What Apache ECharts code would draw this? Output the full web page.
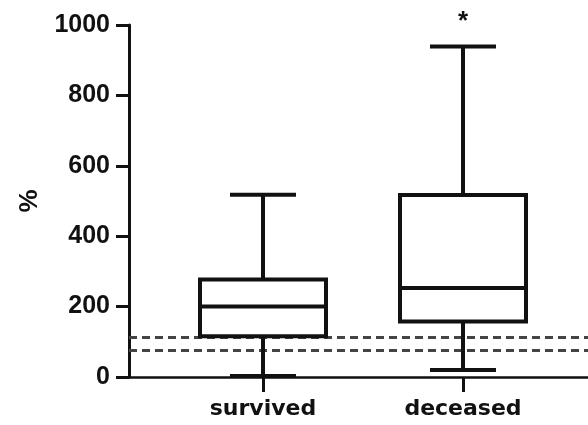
<!DOCTYPE html>
<html>
<head>
<meta charset="UTF-8">
<title>box plot</title>
<script src="https://cdn.jsdelivr.net/npm/echarts@6/dist/echarts.min.js"></script>
<style>
    html, body { margin: 0; padding: 0; background: #fff; }
    #chart { width: 588px; height: 425px; }
</style>
</head>
<body>
<div id="chart"></div>
<script>
    // groups and box statistics
    var categories = ['survived', 'deceased'];
    var positions = [1, 2];
    var whiskerLow = [3, 20];
    var q1 = [116, 158];
    var median = [200, 253];
    var q3 = [277, 517];
    var whiskerHigh = [518, 939];
    var marks = ['', '*'];
    var refLines = [114, 77];

    var boxData = [];
    for (var i = 0; i < categories.length; i++) {
        boxData.push([positions[i], whiskerLow[i], q1[i], median[i], q3[i], whiskerHigh[i], i]);
    }

    function renderBox(params, api) {
        var x = api.value(0);
        var lo = api.coord([x, api.value(1)]);
        var b1 = api.coord([x, api.value(2)]);
        var md = api.coord([x, api.value(3)]);
        var b3 = api.coord([x, api.value(4)]);
        var hi = api.coord([x, api.value(5)]);
        var cx = lo[0];
        var half = 63, cap = 33;
        var st = { stroke: '#111', lineWidth: 4, fill: null };
        var kids = [
            { type: 'line', shape: { x1: cx, y1: hi[1], x2: cx, y2: b3[1] }, style: st },
            { type: 'line', shape: { x1: cx, y1: b1[1], x2: cx, y2: lo[1] }, style: st },
            { type: 'line', shape: { x1: cx - cap, y1: hi[1], x2: cx + cap, y2: hi[1] }, style: st },
            { type: 'line', shape: { x1: cx - cap, y1: lo[1], x2: cx + cap, y2: lo[1] }, style: st },
            { type: 'rect', shape: { x: cx - half, y: b3[1], width: half * 2, height: b1[1] - b3[1] },
              style: { stroke: '#111', lineWidth: 4, fill: '#fff' } },
            { type: 'line', shape: { x1: cx - half, y1: md[1], x2: cx + half, y2: md[1] }, style: st }
        ];
        var m = marks[api.value(6)];
        if (m) {
            kids.push({
                type: 'text',
                style: { x: cx, y: hi[1] - 25, text: m, fill: '#111', align: 'center', verticalAlign: 'middle',
                    font: 'bold 26px "Liberation Sans", Arial, sans-serif' }
            });
        }
        return { type: 'group', children: kids };
    }

    var chart = echarts.init(document.getElementById('chart'));
    var option = {
        backgroundColor: '#fff',
        animation: false,
        grid: { left: 129, right: 0, top: 25, bottom: 48 },
        xAxis: {
            type: 'value',
            min: 0.33,
            max: 2.625,
            splitLine: { show: false },
            axisLine: { show: true, onZero: false, lineStyle: { color: '#111', width: 2.5 } },
            axisTick: { show: true, customValues: positions, length: 15, lineStyle: { color: '#111', width: 3 } },
            axisLabel: {
                customValues: positions,
                margin: 21,
                color: '#111',
                fontFamily: 'DejaVu Sans',
                fontWeight: 'bold',
                fontSize: 22,
                formatter: function (v) { return categories[positions.indexOf(v)] || ''; }
            }
        },
        yAxis: {
            type: 'value',
            min: 0,
            max: 1000,
            interval: 200,
            name: '%',
            nameLocation: 'middle',
            nameGap: 86,
            nameTextStyle: { color: '#111', fontFamily: 'Liberation Sans', fontWeight: 'bold', fontSize: 26 },
            splitLine: { show: false },
            axisLine: { show: true, lineStyle: { color: '#111', width: 3 } },
            axisTick: { show: true, length: 13, lineStyle: { color: '#111', width: 3 } },
            axisLabel: {
                margin: 19,
                color: '#111',
                fontFamily: 'Liberation Sans',
                fontWeight: 'bold',
                fontSize: 25,
                formatter: function (v) { return String(v); }
            }
        },
        series: [
            {
                type: 'line',
                data: [],
                silent: true,
                markLine: {
                    silent: true,
                    symbol: 'none',
                    label: { show: false },
                    lineStyle: { color: '#444', width: 3, type: [8, 5] },
                    data: refLines.map(function (v) { return { yAxis: v }; })
                }
            },
            {
                type: 'custom',
                renderItem: renderBox,
                data: boxData,
                z: 5
            }
        ]
    };
    chart.setOption(option);
</script>
</body>
</html>
